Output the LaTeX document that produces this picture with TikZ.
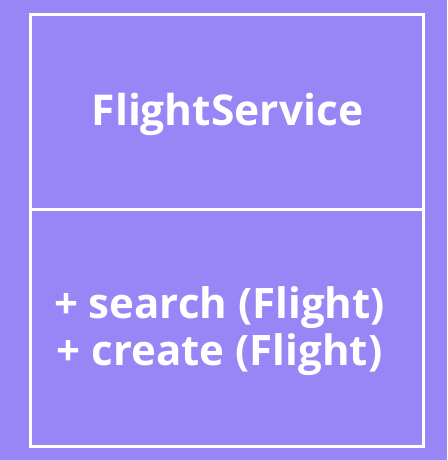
\documentclass[tikz,border=0pt]{standalone}
\usepackage{fontspec}
\setmainfont{Open Sans}
\definecolor{bgpurple}{RGB}{152,134,246}
\tikzset{
  boxline/.style={draw=white, line width=3pt},
  titletext/.style={anchor=base, text=white, font=\bfseries\fontsize{42.5}{50}\selectfont, inner sep=0pt},
  methodtext/.style={anchor=base, text=white, font=\bfseries\fontsize{42}{50}\selectfont, inner sep=0pt}
}
\begin{document}
\begin{tikzpicture}[x=1pt,y=1pt]
\fill[bgpurple] (0,0) rectangle (447,-460);
\useasboundingbox (0,0) rectangle (447,-460);
\coordinate (tl) at (30.5,-14.5);
\coordinate (br) at (423.5,-446.5);
\coordinate (dl) at (30.5,-209);
\coordinate (dr) at (423.5,-209);
\draw[boxline] (tl) rectangle (br);
\draw[boxline] (dl) -- (dr);
\node[titletext] (title) at (227.5,-125) {FlightService};
\node[methodtext] (m1) at (219.5,-318) {+ search (Flight)};
\node[methodtext] (m2) at (219.5,-365) {+ create (Flight)};
\end{tikzpicture}
\end{document}
